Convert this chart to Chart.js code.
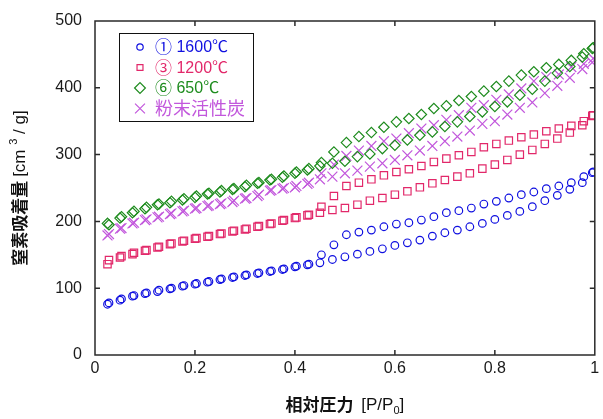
<!DOCTYPE html>
<html>
<head>
<meta charset="utf-8">
<script src="https://cdn.jsdelivr.net/npm/chart.js@4/dist/chart.umd.min.js"></script>
<style>
  html, body { margin: 0; padding: 0; background: #fff; }
  #wrap { width: 603px; height: 419px; position: relative; }
</style>
</head>
<body>
<div id="wrap"><canvas id="isotherm"></canvas></div>
<script>
// ── Relative pressure P/P0 for the two branches ------------------------------
const adsP = [
  0.025, 0.05, 0.075, 0.1, 0.125, 0.15, 0.175, 0.2, 0.225, 0.25,
  0.275, 0.3, 0.325, 0.35, 0.375, 0.4, 0.425, 0.45, 0.475, 0.5,
  0.525, 0.55, 0.575, 0.6, 0.625, 0.65, 0.675, 0.7, 0.725, 0.75,
  0.775, 0.8, 0.825, 0.85, 0.875, 0.9, 0.925, 0.95, 0.975, 0.995
];
const desP = [
  0.997, 0.978, 0.953, 0.928, 0.903, 0.878, 0.853, 0.828, 0.803, 0.778,
  0.753, 0.728, 0.703, 0.678, 0.653, 0.628, 0.603, 0.578, 0.553, 0.528,
  0.503, 0.478, 0.453, 0.428, 0.403, 0.378, 0.353, 0.328, 0.303, 0.278,
  0.253, 0.228, 0.203, 0.178, 0.153, 0.128, 0.103, 0.078, 0.053, 0.028
];

// ── N2 uptake [cm3/g] -----------------------------------------------------------
const ads1600 = [
  76, 82, 88, 92, 95, 99, 103, 106, 109, 113,
  116, 119, 122, 125, 128, 132, 135, 138, 143, 147,
  151, 155, 159, 164, 168, 172, 178, 183, 187, 192,
  197, 203, 209, 215, 222, 231, 239, 248, 258, 273
];
const des1600 = [
  274, 267, 258, 253, 249, 244, 240, 235, 230, 226,
  220, 216, 213, 207, 202, 198, 196, 192, 187, 184,
  180, 165, 150, 136, 133, 129, 126, 123, 120, 117,
  114, 110, 107, 104, 100, 97, 93, 89, 84, 78
];
const ads1200 = [
  136, 146, 151, 156, 161, 166, 170, 174, 177, 181,
  185, 188, 192, 196, 201, 205, 209, 213, 217, 220,
  225, 231, 235, 240, 245, 251, 257, 262, 267, 272,
  279, 285, 292, 300, 307, 316, 324, 333, 344, 358
];
const des1200 = [
  359, 350, 343, 339, 335, 330, 326, 321, 316, 311,
  304, 299, 294, 289, 283, 278, 274, 269, 263, 258,
  253, 238, 222, 210, 206, 202, 197, 193, 189, 186,
  182, 178, 175, 171, 167, 162, 157, 153, 148, 142
];
const ads650 = [
  197, 205, 213, 219, 225, 228, 232, 236, 241, 244,
  248, 252, 257, 262, 266, 272, 277, 283, 287, 290,
  297, 301, 309, 314, 322, 329, 334, 342, 349, 357,
  364, 372, 379, 389, 398, 410, 422, 432, 446, 459
];
const des650 = [
  460, 451, 441, 435, 430, 424, 419, 410, 402, 395,
  387, 381, 373, 369, 360, 354, 349, 341, 333, 327,
  318, 304, 288, 279, 274, 268, 263, 258, 254, 249,
  246, 242, 238, 234, 230, 226, 221, 215, 207, 195
];
const adsPAC = [
  179, 189, 197, 202, 206, 211, 215, 219, 223, 226,
  229, 234, 238, 246, 249, 251, 256, 263, 267, 272,
  276, 282, 287, 292, 299, 306, 313, 320, 327, 336,
  346, 350, 360, 370, 378, 392, 403, 415, 428, 438
];
const desPAC = [
  444, 436, 431, 420, 416, 410, 399, 390, 382, 374,
  370, 359, 352, 344, 339, 332, 324, 320, 313, 306,
  298, 285, 272, 258, 253, 250, 247, 240, 235, 231,
  227, 224, 220, 216, 212, 207, 203, 198, 190, 181
];

// legend: circled sample number + firing temperature
const sampleMarks  = ['\u2460', '\u2462', '\u2465', ''];
const sampleNames  = ['1600\u2103', '1200\u2103', '650\u2103', '粉末活性炭'];
const xTicks = [0, 0.2, 0.4, 0.6, 0.8, 1];
const yTicks = [0, 100, 200, 300, 400, 500];

const colors  = ['#1010e0', '#e2286a', '#1e8c1e', '#c257dc'];
const shapes  = ['circle', 'rect', 'rectRot', 'crossRot'];
const radii   = [3.8, 5.2, 5.2, 7];
const legendR = [3.2, 4.2, 5.4, 7];

const toPts = (xs, ys) => xs.map((x, i) => ({ x: x, y: ys[i] }));
const branches = [
  [ads1600, des1600], [ads1200, des1200], [ads650, des650], [adsPAC, desPAC]
];

const datasets = [];
branches.forEach((b, i) => {
  [toPts(adsP, b[0]), toPts(desP, b[1])].forEach(pts => {
    datasets.push({
      label: sampleNames[i],
      data: pts,
      showLine: false,
      pointStyle: shapes[i],
      pointRadius: radii[i],
      pointBorderWidth: 1.2,
      borderColor: colors[i],
      backgroundColor: 'rgba(0,0,0,0)',
      pointBackgroundColor: 'rgba(0,0,0,0)',
      pointBorderColor: colors[i]
    });
  });
});

// draws runs of text with differing fonts / offsets, starting at x (or centred)
function drawRuns(ctx, runs, x0, cy, centre) {
  let total = 0;
  runs.forEach(r => { ctx.font = r.font; r.w = ctx.measureText(r.t).width; total += r.w; });
  let x = centre ? x0 - total / 2 : x0;
  ctx.textBaseline = 'middle';
  ctx.textAlign = 'left';
  runs.forEach(r => {
    ctx.font = r.font;
    ctx.fillText(r.t, x, cy + (r.dy || 0));
    x += r.w;
  });
}

const framePlugin = {
  id: 'frame',
  afterDraw(chart) {
    const ctx = chart.ctx;
    const a = chart.chartArea;
    const xs = chart.scales.x, ys = chart.scales.y;
    ctx.save();
    ctx.strokeStyle = '#2a2a2a';
    ctx.lineWidth = 1.5;
    ctx.strokeRect(a.left, a.top, a.right - a.left, a.bottom - a.top);

    // inward ticks on all four sides
    const tl = 5;
    ctx.beginPath();
    xTicks.slice(1, -1).forEach(v => {
      const px = xs.getPixelForValue(v);
      ctx.moveTo(px, a.bottom); ctx.lineTo(px, a.bottom - tl);
      ctx.moveTo(px, a.top);    ctx.lineTo(px, a.top + tl);
    });
    yTicks.slice(1, -1).forEach(v => {
      const py = ys.getPixelForValue(v);
      ctx.moveTo(a.left, py);  ctx.lineTo(a.left + tl, py);
      ctx.moveTo(a.right, py); ctx.lineTo(a.right - tl, py);
    });
    ctx.stroke();

    // legend box, markers and text
    const lx = 119.5, ly = 33.5, lw = 134, lh = 88;
    ctx.fillStyle = '#fff';
    ctx.fillRect(lx, ly, lw, lh);
    ctx.strokeStyle = '#111';
    ctx.lineWidth = 1;
    ctx.strokeRect(lx, ly, lw, lh);
    const rowY = [47, 67.5, 88, 108.5];
    shapes.forEach((s, i) => {
      ctx.save();
      ctx.strokeStyle = colors[i];
      ctx.fillStyle = 'rgba(0,0,0,0)';
      ctx.lineWidth = 1.2;
      Chart.helpers.drawPoint(ctx, { pointStyle: s, radius: legendR[i], borderWidth: 1.2, rotation: 0 }, 140, rowY[i]);
      ctx.restore();

      ctx.fillStyle = colors[i];
      if (sampleMarks[i]) {
        drawRuns(ctx, [
          { t: sampleMarks[i], font: "17px 'Noto Sans CJK JP'" },
          { t: ' ' + sampleNames[i], font: "16px 'Liberation Sans', 'Noto Sans CJK JP'", dy: 1 }
        ], 155, rowY[i], false);
      } else {
        drawRuns(ctx, [
          { t: sampleNames[i], font: "18px 'Noto Sans CJK JP'" }
        ], 155, rowY[i], false);
      }
    });
    ctx.restore();

    // axis titles
    ctx.save();
    ctx.fillStyle = '#111';
    drawRuns(ctx, [
      { t: '相対圧力  ', font: "bold 17px 'Noto Sans CJK JP'" },
      { t: '[P/P', font: "17px 'Liberation Sans'" },
      { t: '0', font: "11px 'Liberation Sans'", dy: 6 },
      { t: ']', font: "17px 'Liberation Sans'" }
    ], (a.left + a.right) / 2, 405, true);

    ctx.translate(20, (a.top + a.bottom) / 2);
    ctx.rotate(-Math.PI / 2);
    drawRuns(ctx, [
      { t: '窒素吸着量 ', font: "bold 17px 'Noto Sans CJK JP'" },
      { t: '[cm ', font: "17px 'Liberation Sans'" },
      { t: '3', font: "11px 'Liberation Sans'", dy: -6 },
      { t: ' / g]', font: "17px 'Liberation Sans'" }
    ], 0, 0, true);
    ctx.restore();
  }
};

function drawChart() {
  const canvas = document.getElementById('isotherm');
  const ctx = canvas.getContext('2d');
  const tickFont = { family: 'Liberation Sans', size: 16 };

  new Chart(ctx, {
    type: 'scatter',
    data: { datasets: datasets },
    options: {
      responsive: true,
      maintainAspectRatio: false,
      animation: false,
      layout: { padding: { top: 21, right: 2, left: 0, bottom: 0 } },
      plugins: {
        legend:  { display: false },
        tooltip: { enabled: false }
      },
      scales: {
        x: {
          type: 'linear', min: 0, max: 1,
          afterBuildTicks: s => { s.ticks = xTicks.map(v => ({ value: v })); },
          afterFit: s => { s.height = 64; s.paddingLeft = 0; s.paddingRight = 0; },
          grid:   { display: false, drawTicks: false },
          border: { display: false },
          ticks:  {
            color: '#1a1a1a', font: tickFont, padding: 4, maxRotation: 0,
            callback: v => String(+v.toFixed(1))
          }
        },
        y: {
          type: 'linear', min: 0, max: 500,
          afterBuildTicks: s => { s.ticks = yTicks.map(v => ({ value: v })); },
          afterFit: s => { s.width = 95; s.paddingTop = 0; s.paddingBottom = 0; },
          grid:   { display: false, drawTicks: false },
          border: { display: false },
          ticks:  { color: '#1a1a1a', font: tickFont, padding: 13 }
        }
      }
    },
    plugins: [framePlugin]
  });
}

window.addEventListener('DOMContentLoaded', () => {
  drawChart();
});
</script>
</body>
</html>
